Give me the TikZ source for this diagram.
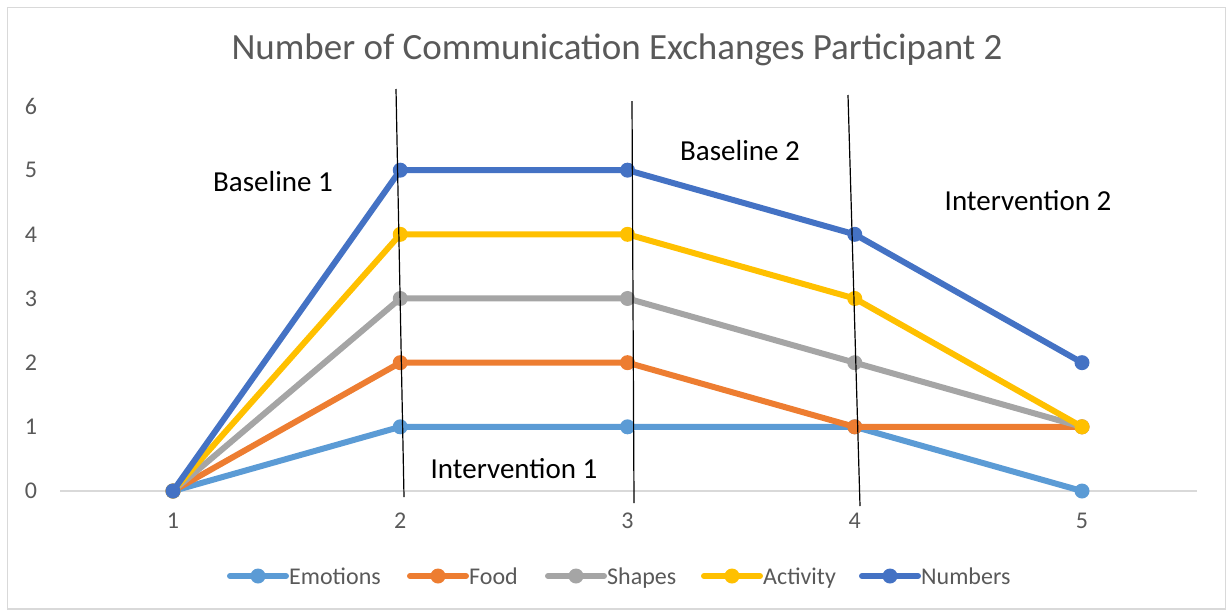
\documentclass[tikz,border=0pt]{standalone}
\usepackage{fontspec}
\setmainfont{Carlito}
\definecolor{cEmo}{HTML}{5B9BD5}
\definecolor{cFood}{HTML}{ED7D31}
\definecolor{cShape}{HTML}{A5A5A5}
\definecolor{cAct}{HTML}{FFC000}
\definecolor{cNum}{HTML}{4472C4}
\definecolor{txtgray}{HTML}{595959}
\definecolor{gridgray}{HTML}{D9D9D9}
\begin{document}
\begin{tikzpicture}[x=1pt,y=-1pt,
  series/.style={line width=6pt, line join=round, line cap=round},
  tick/.style={text=txtgray, font=\fontsize{24}{28}\selectfont, inner sep=0pt},
  legtext/.style={text=txtgray, font=\fontsize{24}{28}\selectfont, inner sep=0pt, anchor=base west},
  phase/.style={text=black, font=\fontsize{29}{34}\selectfont, inner sep=0pt},
  divider/.style={black, line width=1.2pt}]
\useasboundingbox (0,0) rectangle (1228,611);
\draw[gridgray, line width=1.5pt] (7.5,7.5) rectangle (1225.5,609);
% title
\node[text=txtgray, font=\fontsize{37}{44}\selectfont, inner sep=0pt] (title) at (617,50) {Number of Communication Exchanges Participant 2};
% y tick labels
\foreach \v in {0,...,6} {
  \node[tick] (y\v) at (31,{491-\v*64.17}) {\v};
}
% axis
\coordinate (axL) at (60,491);
\coordinate (axR) at (1197,491);
\draw[gridgray, line width=2pt] (axL) -- (axR);
% x tick labels
\foreach \i in {1,...,5} {
  \node[tick] (x\i) at ({173+(\i-1)*227.25},521) {\i};
}
% series
\foreach \name/\col/\a/\b/\c/\d/\e in {emo/cEmo/0/1/1/1/0, food/cFood/0/2/2/1/1, shape/cShape/0/3/3/2/1, act/cAct/0/4/4/3/1, num/cNum/0/5/5/4/2} {
  \foreach \v [count=\i] in {\a,\b,\c,\d,\e} {
    \coordinate (\name\i) at ({173+(\i-1)*227.25},{491-\v*64.17});
  }
  \draw[series, color=\col] (\name1) -- (\name2) -- (\name3) -- (\name4) -- (\name5);
  \foreach \i in {1,...,5} {
    \fill[color=\col] (\name\i) circle (7.5);
  }
}
% phase dividers
\coordinate (d1t) at (396,89);  \coordinate (d1b) at (404,497);
\coordinate (d2t) at (632,101); \coordinate (d2b) at (634,503);
\coordinate (d3t) at (848,95);  \coordinate (d3b) at (860,506);
\draw[divider] (d1t) -- (d1b);
\draw[divider] (d2t) -- (d2b);
\draw[divider] (d3t) -- (d3b);
% phase labels
\node[phase] (p1) at (273,182) {Baseline 1};
\node[phase] (p2) at (514,469) {Intervention 1};
\node[phase] (p3) at (740,151) {Baseline 2};
\node[phase] (p4) at (1028,201) {Intervention 2};
% legend
\foreach \name/\col/\xa/\lab in {lemo/cEmo/230/Emotions, lfood/cFood/410/Food, lshape/cShape/548/Shapes, lact/cAct/704/Activity, lnum/cNum/862/Numbers} {
  \coordinate (\name a) at (\xa,576);
  \coordinate (\name b) at (\xa+56,576);
  \coordinate (\name m) at (\xa+28,576);
  \draw[series, color=\col] (\name a) -- (\name b);
  \fill[color=\col] (\name m) circle (7.5);
  \node[legtext] (\name t) at (\xa+59,584) {\lab};
}
\end{tikzpicture}
\end{document}
